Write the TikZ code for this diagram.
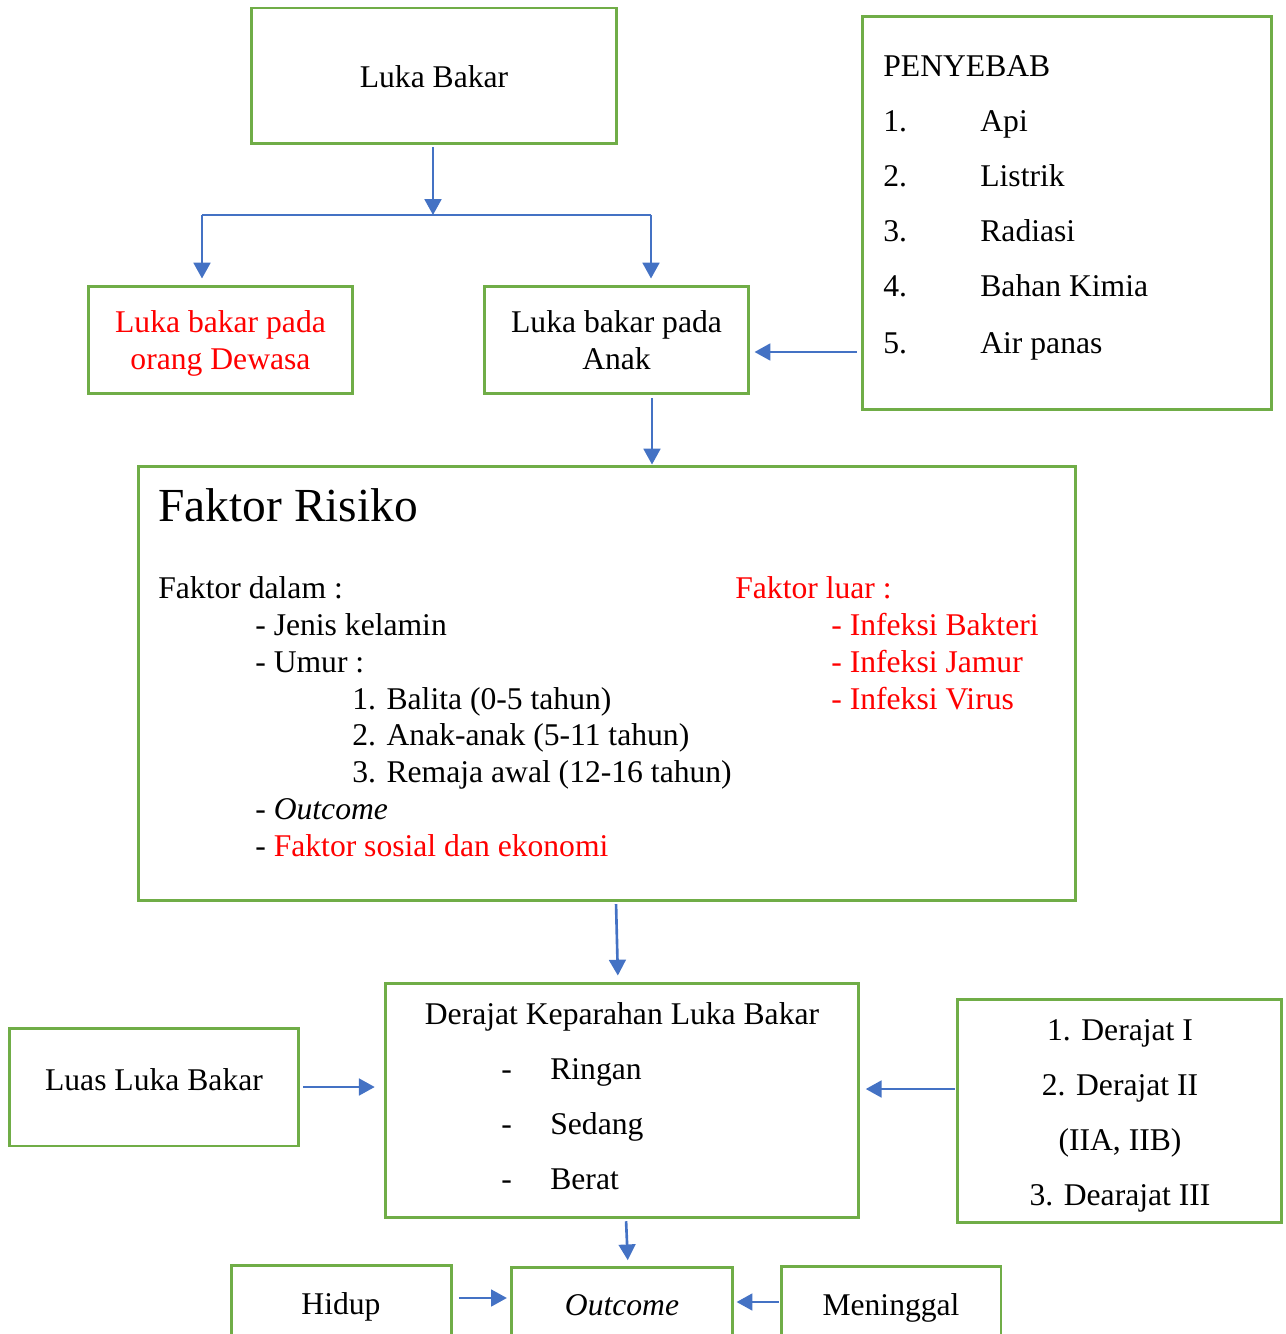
\documentclass[tikz,border=0pt]{standalone}
\usepackage{fontspec}
\setmainfont{Liberation Serif}
\usetikzlibrary{arrows.meta}
\definecolor{gbox}{HTML}{70AD47}
\definecolor{barrow}{HTML}{4472C4}
\definecolor{rtext}{HTML}{FF0000}
\begin{document}
\begin{tikzpicture}[x=0.02cm,y=-0.02cm,
  box/.style={draw=gbox,line width=1.7pt,rectangle,inner sep=0pt,align=center,font=\fontsize{18}{21.6}\selectfont},
  arr/.style={draw=barrow,line width=1.5pt,-{Triangle[length=9pt,width=9.5pt]}},
  thin/.style={draw=barrow,line width=0.8pt},
  txt/.style={anchor=base west,inner sep=0pt,font=\fontsize{18}{21.6}\selectfont},
  ctxt/.style={anchor=base,inner sep=0pt,font=\fontsize{18}{21.6}\selectfont},
  red/.style={text=rtext},
]
\useasboundingbox (0,0) rectangle (1285,1334);
\clip (0,0) rectangle (1285,1334);

% boxes
\node[box,minimum width=7.32cm,minimum height=2.72cm] (lb) at (434,76) {};
\node[ctxt] (lbt) at (434,88) {Luka Bakar};
\node[box,minimum width=8.2cm,minimum height=7.88cm] (peny) at (1067,213) {};
\node[box,minimum width=5.3cm,minimum height=2.16cm] (dew) at (220.5,340) {};
\node[ctxt,red,align=center] (dewt) at (220.5,370) {Luka bakar pada\\orang Dewasa};
\node[box,minimum width=5.3cm,minimum height=2.16cm] (anak) at (616.5,340) {};
\node[ctxt,align=center] (anakt) at (616.5,370) {Luka bakar pada\\Anak};
\node[box,minimum width=18.76cm,minimum height=8.7cm] (fr) at (607,683.5) {};
\node[box,minimum width=9.48cm,minimum height=4.7cm] (der) at (622,1100.5) {};
\node[box,minimum width=5.8cm,minimum height=2.36cm] (luas) at (154,1087) {};
\node[ctxt] (luast) at (154,1090) {Luas Luka Bakar};
\node[box,minimum width=6.5cm,minimum height=4.48cm] (dj) at (1119.5,1111) {};
\node[box,minimum width=4.42cm,minimum height=2.8cm] (hid) at (341.5,1335) {};
\node[box,minimum width=4.44cm,minimum height=2.8cm] (out) at (622,1337) {};
\node[box,minimum width=4.4cm,minimum height=2.8cm] (men) at (891,1336) {};

% penyebab text
\node[txt] (p0) at (883,77) {PENYEBAB};
\node[txt] (p1n) at (883,132) {1.};
\node[txt] (p1) at (980,132) {Api};
\node[txt] (p2n) at (883,187) {2.};
\node[txt] (p2) at (980,187) {Listrik};
\node[txt] (p3n) at (883,242) {3.};
\node[txt] (p3) at (980,242) {Radiasi};
\node[txt] (p4n) at (883,297) {4.};
\node[txt] (p4) at (980,297) {Bahan Kimia};
\node[txt] (p5n) at (883,354) {5.};
\node[txt] (p5) at (980,354) {Air panas};

% faktor risiko text
\node[txt,font=\fontsize{27}{32}\selectfont] (frt) at (158,521) {Faktor Risiko};
\node[txt] (fd) at (158,598) {Faktor dalam :};
\node[txt] (fd1) at (255,635) {- Jenis kelamin};
\node[txt] (fd2) at (255,672) {- Umur :};
\node[txt] (fd3) at (352,709) {1. Balita (0-5 tahun)};
\node[txt] (fd4) at (352,745) {2. Anak-anak (5-11 tahun)};
\node[txt] (fd5) at (352,782) {3. Remaja awal (12-16 tahun)};
\node[txt] (fd6) at (255,819) {- \textit{Outcome}};
\node[txt] (fd7) at (255,856) {- \textcolor{rtext}{Faktor sosial dan ekonomi}};
\node[txt,red] (fl) at (735,598) {Faktor luar :};
\node[txt,red] (fl1) at (831,635) {- Infeksi Bakteri};
\node[txt,red] (fl2) at (831,672) {- Infeksi Jamur};
\node[txt,red] (fl3) at (831,709) {- Infeksi Virus};

% derajat keparahan text
\node[ctxt] (dt) at (622,1024) {Derajat Keparahan Luka Bakar};
\node[txt] (dd1) at (501,1079) {-};
\node[txt] (d1) at (550,1079) {Ringan};
\node[txt] (dd2) at (501,1134) {-};
\node[txt] (d2) at (550,1134) {Sedang};
\node[txt] (dd3) at (501,1189) {-};
\node[txt] (d3) at (550,1189) {Berat};

% derajat list
\node[ctxt] (j1) at (1120,1040) {1. Derajat I};
\node[ctxt] (j2) at (1120,1095) {2. Derajat II};
\node[ctxt] (j3) at (1120,1150) {(IIA, IIB)};
\node[ctxt] (j4) at (1120,1205) {3. Dearajat III};

% outcome row text
\node[ctxt] (ht) at (341,1314) {Hidup};
\node[ctxt] (ot) at (622,1315) {\textit{Outcome}};
\node[ctxt] (mt) at (891,1315) {Meninggal};

% connectors
\coordinate (fk) at (433,215);
\coordinate (fkl) at (202,215);
\coordinate (fkr) at (651,215);
\draw[arr,shorten <=1pt] (lb.south -| fk) -- (fk);
\draw[thin] (fkl) -- (fkr);
\draw[arr,shorten >=3.4pt] (fkl) -- (fkl |- dew.north);
\draw[arr,shorten >=3.4pt] (fkr) -- (fkr |- anak.north);
\draw[arr,shorten <=2.3pt,shorten >=2.3pt] (peny.west |- 0,352) -- (anak.east |- 0,352);
\draw[arr,shorten <=1.7pt] (anak.south -| 652,0) -- (fr.north -| 652,0);
\draw[arr,shorten <=1pt,shorten >=3.4pt] (fr.south -| 616,0) -- (der.north -| 618,0);
\draw[arr,shorten <=1.7pt,shorten >=5pt] (luas.east |- 0,1087) -- (der.west |- 0,1087);
\draw[arr,shorten <=0.5pt,shorten >=3pt] (dj.west |- 0,1089) -- (der.east |- 0,1089);
\draw[arr,shorten <=1pt,shorten >=3pt] (der.south -| 626,0) -- (out.north -| 628,0);
\draw[arr,shorten <=3pt,shorten >=1.5pt] (hid.east |- 0,1298) -- (out.west |- 0,1298);
\draw[arr,shorten <=0.5pt,shorten >=1.2pt] (men.west |- 0,1302) -- (out.east |- 0,1302);
\end{tikzpicture}
\end{document}
